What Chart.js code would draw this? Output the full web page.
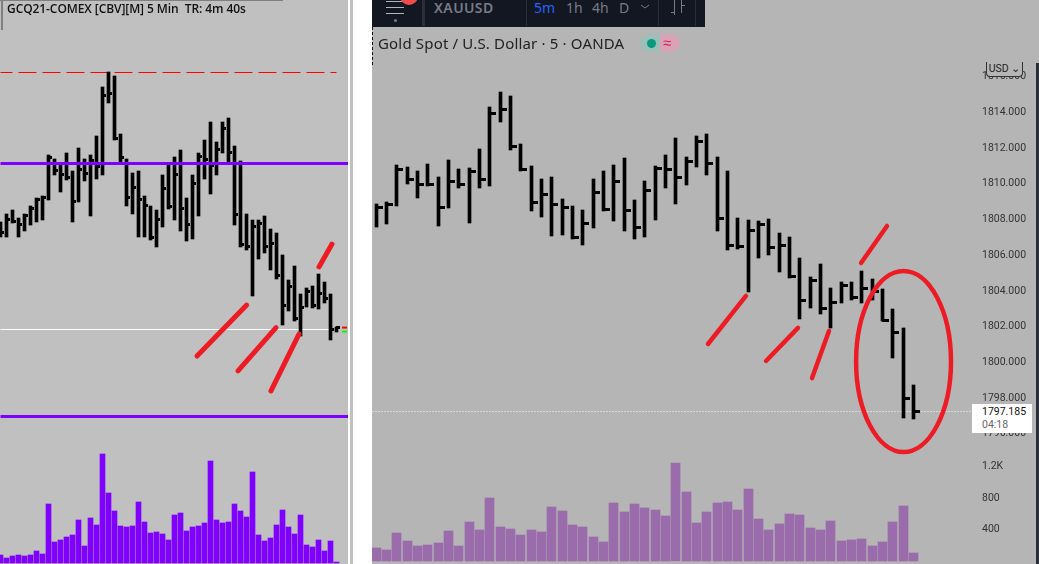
<!DOCTYPE html>
<html>
<head>
<meta charset="utf-8">
<title>GCQ21 vs XAUUSD</title>
<script src="https://cdn.jsdelivr.net/npm/chart.js@4/dist/chart.umd.min.js"></script>
<style>
  html, body { margin: 0; padding: 0; background: #fff; overflow: hidden; }
  #page { position: relative; width: 1039px; height: 564px; overflow: hidden; }
  #page > * { position: absolute; }
  canvas { display: block; }
  #leftPanel { left: 0; top: 0; width: 348px; height: 564px; background: #c0c0c0; }
  #leftGap { left: 350px; top: 0; width: 3px; height: 564px; background: #c0c0c0; }
  #leftChart { left: 0; top: 0; }
  #rightChart { left: 372px; top: 0; background: #b5b5b5; }
  #leftTop { left: 0; top: 0; width: 283px; height: 1px; background: #808080; }
  #leftSide { left: 1px; top: 0; width: 2px; height: 30px; background: #808080; }
  #leftTitle { left: 7px; top: 0; font: 600 12px/17px "Open Sans", sans-serif; letter-spacing: -0.08px; color: #111; white-space: pre; }
  #toolbar { left: 372px; top: 0; width: 333px; height: 27px; background: #131722; overflow: hidden; }
  #toolbar > * { position: absolute; }
  .menu { left: 14px; width: 18px; height: 1px; background: #b2b5be; }
  .sep { top: 0; width: 1px; height: 26px; background: #2a2e39; }
  .tool { top: 0; font: 14px/15px "Noto Sans", sans-serif; color: #787b86; }
  #legend { left: 378px; top: 33px; font: 15px/20px "Noto Sans", sans-serif; letter-spacing: 0.17px; color: #222; white-space: pre; }
  #pill { left: 640px; top: 34px; width: 40px; height: 18px; border-radius: 9px; overflow: hidden; background: #d8a3b4; }
  #pill div { position: absolute; }
  #dashes { left: 372px; top: 27px; width: 0; height: 38px; border-left: 1px dashed #111; }
  #usd { left: 986px; top: 62px; width: 35px; height: 14px; background: #b5b5b5; border: 1px solid #333; border-top: 0; border-radius: 0 0 4px 4px;
         font: 10.5px/14px Roboto, sans-serif; color: #222; text-align: center; }
  #tag { left: 972px; top: 404px; width: 60px; height: 29px; background: #fff; font: 10.5px/14px Roboto, sans-serif; }
  #tag div { position: absolute; left: 10px; white-space: pre; }
  #tagTick { left: 972px; top: 411px; width: 5px; height: 1px; background: #131722; }
  #edge { left: 1036px; top: 63px; width: 3px; height: 501px; background: #2a2e39; }
</style>
</head>
<body>
<div id="page">
  <div id="leftPanel"></div>
  <div id="leftGap"></div>
  <canvas id="leftChart" width="348" height="564"></canvas>
  <div id="leftTop"></div>
  <div id="leftSide"></div>
  <div id="leftTitle">GCQ21-COMEX [CBV][M] 5 Min  TR: 4m 40s</div>

  <canvas id="rightChart" width="667" height="564"></canvas>
  <div id="toolbar">
    <div class="menu" style="top:1px"></div>
    <div class="menu" style="top:7px"></div>
    <div class="menu" style="top:13px"></div>
    <div style="left:22px;top:19px;width:3px;height:3px;border-radius:2px;background:#787b86"></div>
    <div style="left:28px;top:-13px;width:18px;height:18px;border-radius:9px;background:#f04b4b"></div>
    <div class="sep" style="left:50px;width:3px"></div>
    <div class="tool" style="left:62px;font-weight:600;letter-spacing:.4px">XAUUSD</div>
    <div class="sep" style="left:154px"></div>
    <div class="tool" style="left:162px;color:#2962ff">5m</div>
    <div class="tool" style="left:194px">1h</div>
    <div class="tool" style="left:220px">4h</div>
    <div class="tool" style="left:247px">D</div>
    <svg style="left:268px;top:4px" width="10" height="6"><path d="M1 1 L5 4 L9 1" fill="none" stroke="#787b86"/></svg>
    <div class="sep" style="left:286px"></div>
    <svg style="left:298px;top:0" width="16" height="16"><path d="M4.5 0 V15 M1 12.5 H4.5 M11.5 0 V13 M11.5 5.5 H15 M1 0" fill="none" stroke="#787b86"/></svg>
    <div class="sep" style="left:323px"></div>
  </div>
  <div id="legend">Gold Spot / U.S. Dollar · 5 · OANDA</div>
  <div id="pill">
    <div style="left:0;top:0;width:20px;height:18px;background:#9ebfb7"></div>
    <div style="left:7px;top:5px;width:9px;height:9px;border-radius:5px;background:#089981"></div>
    <div style="left:23px;top:-1px;font:15px/18px 'Noto Sans',sans-serif;color:#d81b60">≈</div>
  </div>
  <div id="dashes"></div>
  <div id="usd">USD ⌄</div>
  <div id="tagTick"></div>
  <div id="tag">
    <div style="top:1px;color:#111">1797.185</div>
    <div style="top:14px;color:#666">04:18</div>
  </div>
  <div id="edge"></div>
</div>

<script>
// GCQ21 panel (left)
const leftHigh = [1806.54,1807.00,1807.22,1806.78,1807.00,1807.44,1807.89,1808.00,1810.28,1810.06,1809.81,1810.39,1809.39,1810.67,1810.06,1810.28,1811.33,1814.06,1814.89,1814.67,1811.44,1810.06,1809.28,1809.39,1808.00,1807.44,1807.22,1809.17,1809.72,1810.17,1810.56,1807.89,1809.17,1810.39,1811.11,1812.11,1811.00,1812.11,1812.33,1810.78,1809.94,1807.00,1806.67,1806.67,1806.89,1806.17,1805.94,1804.72,1803.33,1804.11,1802.56,1802.89,1803.00,1803.67,1803.22,1802.56,1800.72];
const leftLow = [1805.74,1805.74,1806.50,1805.72,1806.06,1806.39,1806.56,1806.67,1807.78,1809.17,1808.22,1808.89,1806.56,1807.67,1808.83,1806.89,1808.94,1809.17,1813.17,1811.11,1809.89,1807.44,1807.00,1805.72,1805.72,1805.56,1805.17,1806.28,1807.28,1806.67,1806.06,1805.50,1805.61,1806.89,1808.94,1808.11,1809.17,1810.39,1809.89,1806.39,1805.17,1805.00,1802.44,1804.50,1804.83,1803.89,1803.39,1800.83,1801.61,1801.06,1800.22,1801.83,1801.78,1801.72,1802.06,1800.00,1800.44];
const leftClose = [1805.96,1806.70,1806.61,1806.39,1806.89,1807.28,1807.78,1807.89,1810.13,1809.44,1809.17,1809.04,1807.67,1809.50,1809.26,1810.00,1809.63,1813.61,1813.72,1811.22,1810.15,1807.89,1808.50,1807.78,1807.50,1805.67,1806.67,1808.43,1807.39,1809.17,1807.33,1806.39,1808.70,1810.22,1810.04,1809.67,1810.56,1811.76,1810.44,1806.98,1805.33,1805.17,1806.28,1806.48,1805.17,1805.37,1803.56,1801.93,1803.00,1801.22,1801.83,1802.67,1801.93,1802.56,1802.28,1800.56,1800.67];
const leftVolume = [80,50,70,80,70,80,120,90,590,210,230,260,280,430,170,450,380,1090,700,520,370,360,370,610,410,300,310,290,230,480,500,320,360,370,400,1020,430,400,410,590,520,460,910,280,220,250,380,530,360,290,480,180,160,230,120,220,10];
const leftRedLevel = 1814.86;
const leftPurpleLevels = [1809.81, 1795.75];
const leftWhiteLevel = 1800.61;
const leftStrokes = [
  [[32.75, 1799.11], [41.03, 1801.94]],
  [[39.58, 1798.28], [45.92, 1800.69]],
  [[45.08, 1797.17], [49.75, 1800.33]],
  [[53.08, 1804.06], [55.25, 1805.33]]
];

// XAUUSD panel (right)
const rightHigh = [1808.81,1808.92,1811.00,1810.89,1810.66,1811.05,1810.32,1811.28,1810.77,1810.83,1811.89,1814.25,1815.09,1814.86,1812.17,1810.94,1810.21,1810.32,1809.09,1808.70,1808.48,1810.21,1810.66,1811.00,1811.39,1809.04,1810.10,1810.94,1811.56,1812.51,1811.45,1812.62,1812.73,1811.45,1810.66,1808.03,1807.92,1807.86,1807.97,1807.17,1806.94,1805.79,1804.70,1805.45,1804.11,1804.44,1804.44,1805.06,1804.61,1804.05,1802.93,1801.87,1798.67];
const rightLow = [1807.54,1807.69,1808.70,1809.93,1809.15,1809.82,1807.58,1808.59,1809.71,1807.75,1809.71,1809.82,1813.41,1811.84,1810.66,1808.42,1808.08,1807.02,1807.08,1806.85,1806.52,1807.47,1808.42,1807.86,1807.30,1806.85,1806.96,1807.92,1809.71,1808.81,1809.88,1810.89,1810.44,1807.30,1806.24,1806.29,1803.88,1805.81,1805.97,1805.02,1804.69,1802.37,1802.99,1802.65,1801.87,1803.27,1803.43,1803.27,1803.43,1802.26,1800.18,1796.82,1796.77];
const rightClose = [1808.64,1808.76,1810.77,1810.16,1809.93,1809.91,1808.64,1810.10,1809.93,1810.66,1810.16,1813.91,1814.08,1812.01,1810.77,1808.87,1809.37,1808.81,1808.59,1806.94,1807.73,1809.48,1808.51,1810.08,1808.46,1807.51,1809.58,1810.81,1810.75,1810.31,1811.20,1812.32,1811.09,1808.01,1806.50,1806.44,1807.34,1807.69,1806.35,1806.46,1804.74,1803.43,1804.50,1802.97,1803.32,1804.22,1803.55,1804.09,1803.92,1802.31,1801.64,1797.89,1797.20];
const rightVolume = [165,140,356,254,190,203,229,381,190,495,394,800,432,406,330,394,368,686,635,457,432,305,241,737,622,724,673,648,571,1245,876,483,622,737,749,648,914,533,394,470,597,584,419,394,508,254,267,279,190,241,495,698,102];
const priceTicks = [1796,1798,1800,1802,1804,1806,1808,1810,1812,1814,1816];
const volumeTicks = [400,800,1200];
const lastPrice = 1797.185;
const rightStrokes = [
  [[32.11, 1800.97], [35.78, 1803.66]],
  [[37.72, 1800.02], [40.81, 1801.87]],
  [[42.17, 1799.06], [43.81, 1801.70]],
  [[46.91, 1805.51], [49.42, 1807.58]]
];
const ring = { x: 51.02, y: 1799.99, rx: 4.59, ry: 5.07 };

const RED = '#ed1c24';

// a small canvas used as point style, only its right half is filled
function closeTick(width) {
  const c = document.createElement('canvas');
  c.width = width;
  c.height = 3;
  const ctx = c.getContext('2d');
  ctx.fillStyle = '#000';
  ctx.fillRect(Math.floor(width / 2), 0, width, 3);
  return c;
}

// the reference has hard pixel edges, so move the bars onto whole pixels
const snapPlugin = {
  id: 'snap',
  afterDatasetsUpdate(chart) {
    chart.getSortedVisibleDatasetMetas().forEach(meta => {
      const isBar = meta.type === 'bar';
      if (!isBar && !chart.data.datasets[meta.index].snap) return;
      meta.data.forEach(el => {
        el.x = Math.floor(el.x) + 0.5;
        if (isBar) {
          el.y = Math.round(el.y);
          el.base = Math.round(el.base);
        } else {
          el.y = Math.floor(el.y) + 0.5;
        }
      });
    });
  }
};

const ringPlugin = {
  id: 'ring',
  afterDatasetsDraw(chart) {
    if (chart.canvas.id !== 'rightChart') return;
    const { x, y } = chart.scales;
    const ctx = chart.ctx;
    ctx.save();
    ctx.strokeStyle = RED;
    ctx.lineWidth = 4.5;
    ctx.beginPath();
    ctx.ellipse(x.getPixelForValue(ring.x), y.getPixelForValue(ring.y),
      Math.abs(x.getPixelForValue(ring.x + ring.rx) - x.getPixelForValue(ring.x)),
      Math.abs(y.getPixelForValue(ring.y + ring.ry) - y.getPixelForValue(ring.y)),
      0, 0, Math.PI * 2);
    ctx.stroke();
    ctx.restore();
  }
};

function strokeDatasets(strokes, width) {
  return strokes.map(s => ({
    type: 'line',
    data: s.map(p => ({ x: p[0], y: p[1] })),
    borderColor: RED,
    borderWidth: width,
    borderCapStyle: 'round',
    pointRadius: 0,
    order: 1
  }));
}

function levelLine(level, from, to, color, width, order, extra) {
  return Object.assign({
    type: 'line',
    data: [{ x: from, y: level }, { x: to, y: level }],
    borderColor: color,
    borderWidth: width,
    pointRadius: 0,
    snap: true,
    order: order
  }, extra);
}

function priceBars(low, high, close, barWidth, tick) {
  return [
    {
      type: 'bar',
      data: low.map((l, i) => ({ x: i, y: [l, high[i]] })),
      backgroundColor: '#000',
      barThickness: barWidth,
      grouped: false,
      order: 3
    },
    {
      type: 'line',
      data: close.map((c, i) => ({ x: i, y: c })),
      showLine: false,
      pointStyle: tick,
      pointRadius: 3,
      snap: true,
      order: 3
    }
  ];
}

function volumeBars(volume, color, barWidth) {
  return {
    type: 'bar',
    data: volume.map((v, i) => ({ x: i, y: v })),
    yAxisID: 'vol',
    backgroundColor: color,
    barThickness: barWidth,
    grouped: false,
    order: 5
  };
}

// both value axes on the right panel are mirrored and take no room,
// their labels sit in the same column at the right of the plot
function flatAxis(axis) {
  axis.width = 0;
  axis.paddingTop = 0;
  axis.paddingBottom = 0;
}

const baseOptions = {
  responsive: false,
  animation: false,
  events: [],
  layout: { padding: 0, autoPadding: false },
  plugins: { legend: { display: false }, tooltip: { enabled: false } }
};

new Chart(document.getElementById('leftChart'), {
  type: 'bar',
  data: {
    datasets: [
      volumeBars(leftVolume, '#8000ff', 5),
      levelLine(leftRedLevel, -0.08, 56.08, '#ff0000', 1, 4, { borderDash: [18, 6], borderDashOffset: 6 }),
      levelLine(leftWhiteLevel, -0.08, 55.42, '#ffffff', 1, 4),
      ...priceBars(leftLow, leftHigh, leftClose, 3, closeTick(7)),
      ...leftPurpleLevels.map(l => levelLine(l, -0.08, 57.92, '#8000ff', 3, 2)),
      ...strokeDatasets(leftStrokes, 5),
      { type: 'line', data: [{ x: 57.33, y: 1800.69 }], showLine: false, pointStyle: 'line', pointRadius: 2.5, borderColor: '#ff0000', borderWidth: 2, order: 1 },
      { type: 'line', data: [{ x: 57.33, y: 1800.47 }], showLine: false, pointStyle: 'line', pointRadius: 2.5, borderColor: '#00ff00', borderWidth: 2, order: 1 }
    ]
  },
  options: Object.assign({}, baseOptions, {
    scales: {
      x: { type: 'linear', offset: false, display: false, min: -0.0833, max: 57.917 },
      y: { display: false, min: 1787.556, max: 1818.889 },
      vol: { display: false, min: -10, max: 5630 }
    }
  }),
  plugins: [snapPlugin]
});

const axisFont = { family: 'Roboto', size: 10.5 };

new Chart(document.getElementById('rightChart'), {
  type: 'bar',
  data: {
    datasets: [
      volumeBars(rightVolume, '#9a6cac', 9),
      levelLine(lastPrice, -0.387, 57.64, '#ffffff', 1, 4, { borderDash: [1, 2] }),
      ...priceBars(rightLow, rightHigh, rightClose, 3, closeTick(13)),
      ...strokeDatasets(rightStrokes, 4.5)
    ]
  },
  options: Object.assign({}, baseOptions, {
    scales: {
      x: { type: 'linear', offset: false, display: false, min: -0.387, max: 64.12 },
      y: {
        position: 'left',
        min: 1788.644,
        max: 1820.241,
        grid: { display: false, drawTicks: false },
        border: { display: false },
        afterBuildTicks: axis => { axis.ticks = priceTicks.map(value => ({ value })); },
        afterFit: flatAxis,
        ticks: { mirror: true, padding: 610, labelOffset: 1, autoSkip: false, color: '#333', font: axisFont, callback: v => v.toFixed(3) }
      },
      vol: {
        position: 'left',
        min: -38.1,
        max: 7124.7,
        grid: { display: false, drawTicks: false },
        border: { display: false },
        afterBuildTicks: axis => { axis.ticks = volumeTicks.map(value => ({ value })); },
        afterFit: flatAxis,
        ticks: { mirror: true, padding: 610, autoSkip: false, color: '#333', font: axisFont, callback: v => (v >= 1000 ? (v / 1000).toFixed(1) + 'K' : v) }
      }
    }
  }),
  plugins: [snapPlugin, ringPlugin]
});
</script>
</body>
</html>
